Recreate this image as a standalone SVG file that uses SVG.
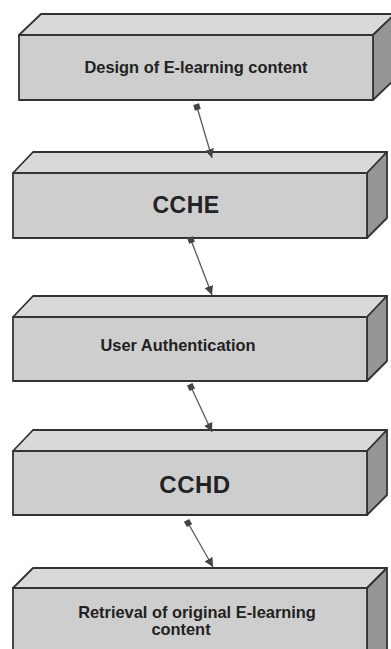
<svg xmlns="http://www.w3.org/2000/svg" width="391" height="649" viewBox="0 0 391 649">
<defs>
<style>
.front{fill:#cecece;stroke:#333;stroke-width:1.8;stroke-linejoin:round}
.top{fill:#d9d9d9;stroke:#333;stroke-width:1.8;stroke-linejoin:round}
.side{fill:#959595;stroke:#333;stroke-width:1.8;stroke-linejoin:round}
.lbl{font-family:"Liberation Sans",Arial,sans-serif;font-weight:bold;fill:#222;text-anchor:middle}
.conn{stroke:#5a5a5a;stroke-width:1.3;fill:none;marker-start:url(#sq);marker-end:url(#arr)}
</style>
<marker id="sq" markerUnits="userSpaceOnUse" markerWidth="8" markerHeight="8" refX="4" refY="4" orient="auto">
<rect x="1" y="1" width="6" height="6" fill="#444"/>
</marker>
<marker id="arr" markerUnits="userSpaceOnUse" markerWidth="9" markerHeight="9" refX="9" refY="4.5" orient="auto">
<path d="M0,0 L9,4.5 L0,9 z" fill="#444"/>
</marker>
</defs>
<rect width="391" height="649" fill="#ffffff"/>
<g id="node1">
<polygon class="top" points="19,35 41,14 395,14 373,35"/>
<polygon class="side" points="373,35 395,14 395,79 373,100"/>
<rect class="front" x="19" y="35" width="354" height="65"/>
<text class="lbl" x="196" y="73" font-size="16.4">Design of E-learning content</text>
</g>
<g id="node2">
<polygon class="top" points="13,173 33,152 387,152 367,173"/>
<polygon class="side" points="367,173 387,152 387,218 367,238"/>
<rect class="front" x="13" y="173" width="354" height="65"/>
<text class="lbl" x="186" y="213" font-size="23" letter-spacing="0.5">CCHE</text>
</g>
<g id="node3">
<polygon class="top" points="13,317 33,296 387,296 367,317"/>
<polygon class="side" points="367,317 387,296 387,361 367,381"/>
<rect class="front" x="13" y="317" width="354" height="64"/>
<text class="lbl" x="178" y="351" font-size="16.4">User Authentication</text>
</g>
<g id="node4">
<polygon class="top" points="13,451 33,430 387,430 367,451"/>
<polygon class="side" points="367,451 387,430 387,495 367,515"/>
<rect class="front" x="13" y="451" width="354" height="64"/>
<text class="lbl" x="195" y="493" font-size="24" letter-spacing="0.5">CCHD</text>
</g>
<g id="node5">
<polygon class="top" points="13,588 33,568 387,568 367,588"/>
<polygon class="side" points="367,588 387,568 387,660 367,670"/>
<rect class="front" x="13" y="588" width="354" height="80"/>
<text class="lbl" font-size="16.4"><tspan x="197" y="618">Retrieval of original E-learning</tspan><tspan x="181" y="635">content</tspan></text>
</g>
<g id="connectors">
<line class="conn" x1="197" y1="107" x2="212" y2="158"/>
<line class="conn" x1="191" y1="240" x2="212" y2="295"/>
<line class="conn" x1="191" y1="387" x2="212" y2="432"/>
<line class="conn" x1="188" y1="523" x2="213" y2="567"/>
</g>
</svg>
